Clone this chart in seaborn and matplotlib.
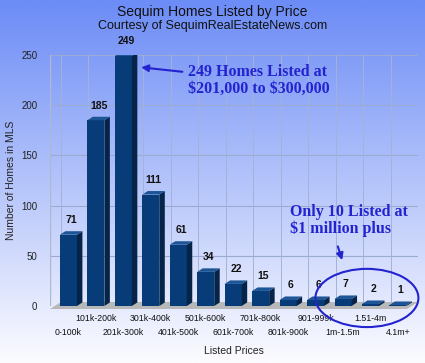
import numpy as np
import pandas as pd
import matplotlib
matplotlib.use("Agg")
import matplotlib.pyplot as plt
import seaborn as sns
from matplotlib.patches import Polygon, Ellipse

categories = ["0-100k", "101k-200k", "201k-300k", "301k-400k", "401k-500k", "501k-600k",
              "601k-700k", "701k-800k", "801k-900k", "901-999k", "1m-1.5m", "1.51-4m", "4.1m+"]
counts = [71, 185, 249, 111, 61, 34, 22, 15, 6, 6, 7, 2, 1]
yticks = [0, 50, 100, 150, 200, 250]

sns.set_theme(style="white")
plt.rcParams['font.family'] = ['Liberation Sans', 'DejaVu Sans']

fig = plt.figure(figsize=(4.25, 3.63), dpi=100)

# background gradient
bg = fig.add_axes([0, 0, 1, 1], zorder=-10)
grad = np.linspace(0, 1, 256)[:, None]
top = np.array([108, 140, 246]) / 255
bot = np.array([252, 252, 255]) / 255
img = top[None, None, :] * (1 - grad[:, :, None]) + bot[None, None, :] * grad[:, :, None]
bg.imshow(img, aspect='auto', extent=[0, 1, 0, 1])
bg.axis('off')

ax = fig.add_axes([50/425, (363-306)/363, 368/425, (306-55)/363])
ax.patch.set_alpha(0)
df = pd.DataFrame({"cat": categories, "n": counts})
sns.barplot(data=df, x="cat", y="n", ax=ax, color="#083c78", width=0.62,
            saturation=1, edgecolor="none", zorder=3)
ax.set_ylim(0, 250)
ax.set_xlim(-0.67, len(categories) - 0.27)

dx = 0.2
dy = 3.5
for p in list(ax.patches):
    x0, w, h = p.get_x(), p.get_width(), p.get_height()
    side = Polygon([(x0 + w, 0), (x0 + w + dx, dy), (x0 + w + dx, h + dy), (x0 + w, h)],
                   closed=True, facecolor="#052448", edgecolor="none", zorder=3)
    topf = Polygon([(x0, h), (x0 + dx, h + dy), (x0 + w + dx, h + dy), (x0 + w, h)],
                   closed=True, facecolor="#1d5596", edgecolor="none", zorder=3)
    ax.add_patch(side)
    ax.add_patch(topf)
    ax.text(x0 + w / 2 + 0.1, h + dy + 6, f"{int(h)}", ha="center", va="bottom",
            fontsize=7.5, fontweight="bold", color="#111111", zorder=5)

# floor
x_lo, x_hi = ax.get_xlim()
floor = Polygon([(x_lo, -3), (x_lo + 0.4, 4), (x_hi, 4), (x_hi - 0.4, -3)], closed=True,
                facecolor="#b8b8b8", edgecolor="none", zorder=2, clip_on=False)
ax.add_patch(floor)

# grid
for y in yticks[1:]:
    ax.axhline(y, color="#9aaad0", lw=0.8, zorder=1)
for xb in np.arange(-0.27, len(categories), 1.0):
    ax.axvline(xb, color="#a4b2d8", lw=0.7, zorder=1)
ax.axvline(x_lo, color="#b0b8d0", lw=1.0, zorder=1)

ax.set_yticks(yticks)
ax.set_yticklabels([str(v) for v in yticks], fontsize=7, color="#222222")
odd = [i for i in range(len(categories)) if i % 2 == 1]
even = [i for i in range(len(categories)) if i % 2 == 0]
ax.set_xticks(odd, [categories[i] for i in odd], fontsize=6.3, color="#111111")
ax.set_xticks(even, [categories[i] for i in even], minor=True, fontsize=6.3, color="#111111")
ax.tick_params(axis='both', which='both', length=0)
ax.tick_params(axis='y', pad=9)
ax.tick_params(axis='x', which='major', pad=6)
ax.tick_params(axis='x', which='minor', pad=16)
for s in ax.spines.values():
    s.set_visible(False)
ax.set_xlabel("Listed Prices", fontsize=7.5, color="#222222", labelpad=6)
ax.set_ylabel("Number of Homes in MLS", fontsize=7.5, color="#222222", labelpad=4)

fig.text(0.5, 1 - 12/363, "Sequim Homes Listed by Price", ha="center", va="center",
         fontsize=10, color="#111111")
fig.text(0.5, 1 - 26/363, "Courtesy of SequimRealEstateNews.com", ha="center", va="center",
         fontsize=9, color="#111111")

blue = "#2323d0"
ax.text(4.36, 225, "249 Homes Listed at\n\\$201,000 to \\$300,000", fontsize=11.5,
        fontweight="bold", family="Liberation Serif", color=blue, va="center", ha="left",
        zorder=6, linespacing=1.05)
ax.annotate("", xy=(2.55, 238), xytext=(4.25, 233),
            arrowprops=dict(arrowstyle="-|>", color=blue, lw=1.5, mutation_scale=10), zorder=6)
ax.text(8.07, 85, "Only 10 Listed at\n\\$1 million plus", fontsize=11.5,
        fontweight="bold", family="Liberation Serif", color=blue, va="center", ha="left",
        zorder=6, linespacing=1.05)
ax.annotate("", xy=(10.0, 43), xytext=(9.78, 62),
            arrowprops=dict(arrowstyle="-|>", color=blue, lw=1.5, mutation_scale=10), zorder=6)
ell = Ellipse((10.87, 8), width=3.75, height=58, fill=False, edgecolor=blue, lw=1.5,
              zorder=6, clip_on=False)
ax.add_patch(ell)

fig.savefig("out.png", dpi=100)
